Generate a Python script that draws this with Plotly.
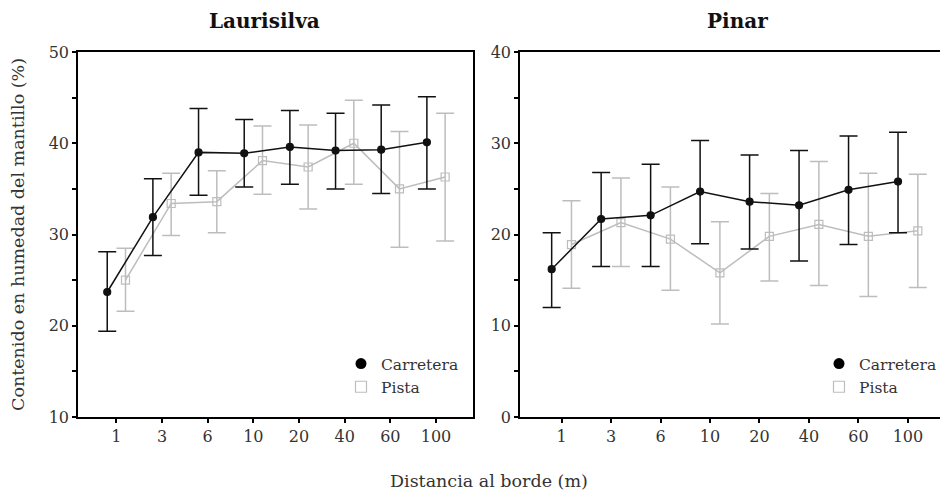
import plotly.graph_objects as go

categories = ["1", "3", "6", "10", "20", "40", "60", "100"]

# Laurisilva
lau_carr = [23.7, 31.9, 39.0, 38.9, 39.6, 39.2, 39.3, 40.1]
lau_carr_hi = [28.1, 36.1, 43.8, 42.6, 43.6, 43.3, 44.2, 45.1]
lau_carr_lo = [19.4, 27.7, 34.3, 35.2, 35.5, 35.0, 34.5, 35.0]
lau_pista = [25.0, 33.4, 33.6, 38.1, 37.4, 40.0, 35.0, 36.3]
lau_pista_hi = [28.5, 36.7, 37.0, 41.9, 42.0, 44.7, 41.3, 43.3]
lau_pista_lo = [21.6, 29.9, 30.2, 34.4, 32.8, 35.5, 28.6, 29.3]

# Pinar
pin_carr = [16.2, 21.7, 22.1, 24.7, 23.6, 23.2, 24.9, 25.8]
pin_carr_hi = [20.2, 26.8, 27.7, 30.3, 28.7, 29.2, 30.8, 31.2]
pin_carr_lo = [12.0, 16.5, 16.5, 19.0, 18.4, 17.1, 18.9, 20.2]
pin_pista = [18.9, 21.3, 19.5, 15.8, 19.8, 21.1, 19.8, 20.4]
pin_pista_hi = [23.7, 26.2, 25.2, 21.4, 24.5, 28.0, 26.7, 26.6]
pin_pista_lo = [14.1, 16.5, 13.9, 10.2, 14.9, 14.4, 13.2, 14.2]

lau_yticks = [10, 15, 20, 25, 30, 35, 40, 45, 50]
lau_yticktext = ["10", "", "20", "", "30", "", "40", "", "50"]
pin_yticks = [0, 5, 10, 15, 20, 25, 30, 35, 40]
pin_yticktext = ["0", "", "10", "", "20", "", "30", "", "40"]

BLACK = "#111111"
GRAY = "#bdbdbd"
TEXT = "#333333"
FONT = "DejaVu Serif"
OFF = 0.2

idx = list(range(len(categories)))
xl = [i - OFF for i in idx]
xr = [i + OFF for i in idx]

def err(v, hi, lo):
    return [h - a for a, h in zip(v, hi)], [a - l for a, l in zip(v, lo)]

fig = go.Figure()

def add_series(x, y, hi, lo, color, symbol, size, xa, ya):
    plus, minus = err(y, hi, lo)
    fig.add_trace(go.Scatter(
        x=x, y=y, mode="lines+markers", xaxis=xa, yaxis=ya, showlegend=False,
        line=dict(color=color, width=1.5),
        marker=dict(color=color, symbol=symbol, size=size, line=dict(color=color, width=1.2)),
        error_y=dict(type="data", symmetric=False, array=plus, arrayminus=minus,
                     color=color, thickness=1.5, width=9),
    ))

add_series(xr, lau_pista, lau_pista_hi, lau_pista_lo, GRAY, "square-open", 8, "x", "y")
add_series(xl, lau_carr, lau_carr_hi, lau_carr_lo, BLACK, "circle", 7, "x", "y")
add_series(xr, pin_pista, pin_pista_hi, pin_pista_lo, GRAY, "square-open", 8, "x2", "y2")
add_series(xl, pin_carr, pin_carr_hi, pin_carr_lo, BLACK, "circle", 7, "x2", "y2")

for lg in ["legend", "legend2"]:
    fig.add_trace(go.Scatter(x=[None], y=[None], mode="markers", name="Carretera",
                             marker=dict(color="black", symbol="circle", size=11),
                             legend=lg, xaxis="x", yaxis="y"))
    fig.add_trace(go.Scatter(x=[None], y=[None], mode="markers", name="Pista",
                             marker=dict(color=GRAY, symbol="square-open", size=11,
                                         line=dict(color=GRAY, width=1.2)),
                             legend=lg, xaxis="x", yaxis="y"))

# page is offset by 8px body margin: figure coordinates = page coordinates - 8
W = 940.0
H = 492.0
ydom = [1 - 409 / H, 1 - 44 / H]
xrange_ = [-0.84, 7.81]

axis_common = dict(showline=True, linecolor="black", linewidth=1.5, showgrid=False,
                   zeroline=False, ticks="outside", tickcolor="black", tickwidth=2,
                   ticklen=4, automargin=False,
                   tickfont=dict(family=FONT, size=16, color=TEXT))

legend_common = dict(xanchor="left", yanchor="top", bgcolor="rgba(0,0,0,0)",
                     font=dict(family=FONT, size=15.5, color=TEXT),
                     itemwidth=30, tracegroupgap=0)

fig.update_layout(
    width=940, height=492, margin=dict(l=0, r=0, t=0, b=0, autoexpand=False),
    plot_bgcolor="white", paper_bgcolor="white",
    font=dict(family=FONT, color=TEXT),
    xaxis=dict(domain=[70 / W, 465 / W], range=xrange_, tickvals=idx, ticktext=categories,
               mirror=True, anchor="y", **axis_common),
    yaxis=dict(domain=ydom, range=[10, 50], tickvals=lau_yticks, ticktext=lau_yticktext,
               mirror=True, anchor="x", **axis_common),
    xaxis2=dict(domain=[512 / W, 1.0], range=xrange_, tickvals=idx, ticktext=categories,
                mirror=True, anchor="y2", **axis_common),
    yaxis2=dict(domain=ydom, range=[0, 40], tickvals=pin_yticks, ticktext=pin_yticktext,
                mirror=False, anchor="x2", **axis_common),
    legend=dict(x=333 / W, y=1 - 339 / H, **legend_common),
    legend2=dict(x=811 / W, y=1 - 339 / H, **legend_common),
    annotations=[
        dict(text="<b>Laurisilva</b>", x=256.5 / W, y=1 - 13 / H, xref="paper", yref="paper",
             showarrow=False, xanchor="center", yanchor="middle",
             font=dict(family=FONT, size=20, color="#111111")),
        dict(text="<b>Pinar</b>", x=729 / W, y=1 - 13 / H, xref="paper", yref="paper",
             showarrow=False, xanchor="center", yanchor="middle",
             font=dict(family=FONT, size=20, color="#111111")),
        dict(text="Contenido en humedad del mantillo (%)", x=10 / W, y=1 - 227 / H,
             xref="paper", yref="paper", showarrow=False, textangle=-90,
             xanchor="center", yanchor="middle",
             font=dict(family=FONT, size=17.5, color=TEXT)),
        dict(text="Distancia al borde (m)", x=480.5 / W, y=1 - 473 / H,
             xref="paper", yref="paper", showarrow=False, xanchor="center", yanchor="middle",
             font=dict(family=FONT, size=17.5, color=TEXT)),
    ],
)

fig.write_html("out.html")
